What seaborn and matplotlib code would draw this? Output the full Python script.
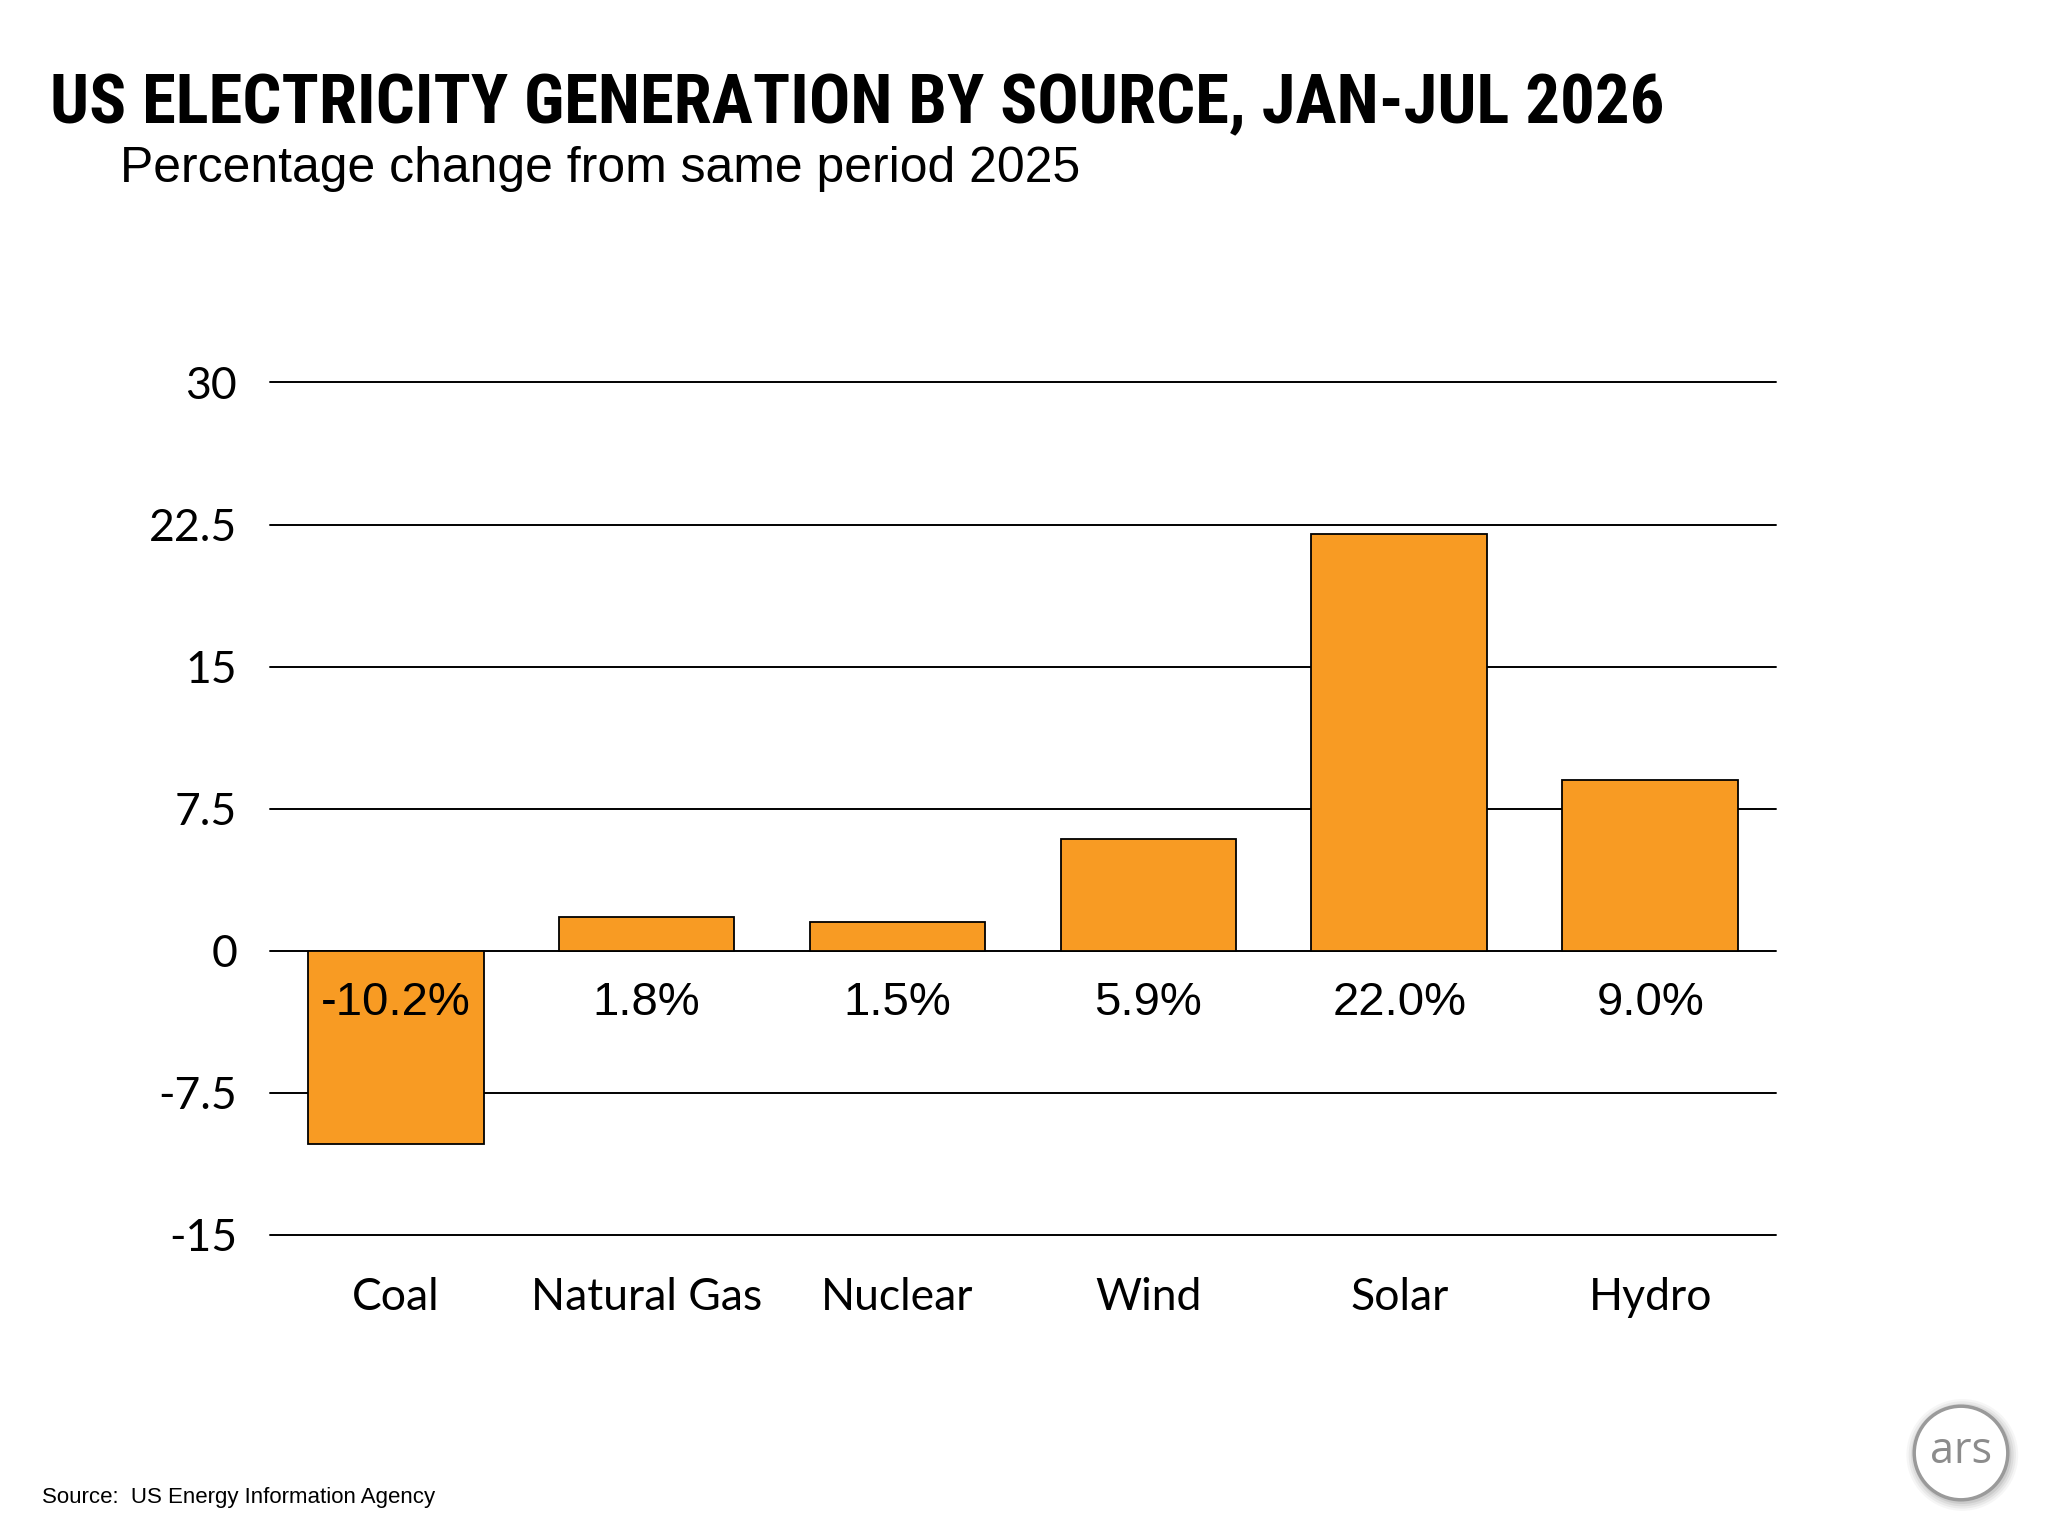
import matplotlib
matplotlib.use('Agg')
import matplotlib.pyplot as plt
import seaborn as sns
from matplotlib.patches import Circle

# ── DATA ─────────────────────────────────────────────────────
sources = ["Coal", "Natural Gas", "Nuclear", "Wind", "Solar", "Hydro"]
changes = [-10.2, 1.8, 1.5, 5.9, 22.0, 9.0]
value_labels = ["-10.2%", "1.8%", "1.5%", "5.9%", "22.0%", "9.0%"]
y_ticks = [30, 22.5, 15, 7.5, 0, -7.5, -15]
y_tick_labels = ["30", "22.5", "15", "7.5", "0", "-7.5", "-15"]

title = "US ELECTRICITY GENERATION BY SOURCE, JAN-JUL 2026"
subtitle = "Percentage change from same period 2025"
source_note = "Source:  US Energy Information Agency"

ORANGE = "#F89B23"

sns.set_style("white")
plt.rcParams["font.family"] = ["Liberation Sans", "DejaVu Sans"]
plt.rcParams.update({"text.color": "black", "xtick.color": "black",
                     "ytick.color": "black", "axes.labelcolor": "black"})

fig = plt.figure(figsize=(20.48, 15.36), dpi=100)
ax = fig.add_axes([0.132, 0.196, 0.735, 0.555])

sns.barplot(x=sources, y=changes, color=ORANGE, saturation=1, width=0.7,
            edgecolor="black", linewidth=1.3, ax=ax)

ax.set_xlim(-0.5, len(sources) - 0.5)
ax.set_ylim(-15, 30)
ax.set_yticks(y_ticks)
ax.set_yticklabels(y_tick_labels)
ax.yaxis.grid(True, color="black", lw=1.4)
ax.xaxis.grid(False)
ax.set_axisbelow(True)
for s in ax.spines.values():
    s.set_visible(False)
for gl in ax.yaxis.get_gridlines():
    gl.set_clip_on(False)

tick_font = ["Lato", "DejaVu Sans"]
ax.tick_params(axis="y", length=0, pad=24, labelsize=32, labelcolor="black")
ax.tick_params(axis="x", length=0, pad=30, labelsize=32, labelcolor="black")
for lab in ax.get_yticklabels() + ax.get_xticklabels():
    lab.set_family(tick_font)

# value labels under the zero line
for i, txt in enumerate(value_labels):
    ax.text(i, -2.75, txt, ha="center", va="center", fontsize=34,
            color="black", family=["Liberation Sans", "DejaVu Sans"])

# ── TITLES ───────────────────────────────────────────────────
t = fig.text(50 / 2048, 1 - 123 / 1536, title, ha="left", va="baseline",
             fontsize=60, fontweight="bold", color="black",
             family=["Liberation Sans Narrow", "DejaVu Sans Condensed",
                     "Roboto Condensed", "Roboto", "DejaVu Sans"])
st = fig.text(120 / 2048, 1 - 182 / 1536, subtitle, ha="left", va="baseline",
              fontsize=33.5, color="black",
              family=["Liberation Sans", "DejaVu Sans"])
fig.text(42 / 2048, 1 - 1503 / 1536, source_note, ha="left", va="baseline",
         fontsize=16, color="black", family=["Liberation Sans", "DejaVu Sans"])

# fit title / subtitle widths to the reference
fig.canvas.draw()
r = fig.canvas.get_renderer()
for txt, target in [(t, 1615), (st, 959)]:
    w = txt.get_window_extent(r).width
    txt.set_fontsize(txt.get_fontsize() * target / w)
for gl in ax.yaxis.get_gridlines():
    gl.set_clip_on(False)

# ── ARS LOGO ─────────────────────────────────────────────────
cx, cy, size = 1961, 1453, 130
lax = fig.add_axes([(cx - size / 2) / 2048, (1536 - cy - size / 2) / 1536,
                    size / 2048, size / 1536])
lax.set_xlim(-1, 1); lax.set_ylim(-1, 1)
lax.set_aspect("equal"); lax.axis("off")
for k, a in enumerate([0.05, 0.07, 0.09, 0.12]):
    lax.add_patch(Circle((0.02, -0.03), 0.86 - k * 0.035, color="#555555",
                         alpha=a, lw=0))
lax.add_patch(Circle((0, 0), 0.72, facecolor="white", edgecolor="#9a9a9a", lw=2.5))
lax.text(0, 0.02, "ars", ha="center", va="center", fontsize=31,
         color="#8c8c8c", family=["Open Sans", "DejaVu Sans"])

fig.savefig("out.png", dpi=100, facecolor="white")
